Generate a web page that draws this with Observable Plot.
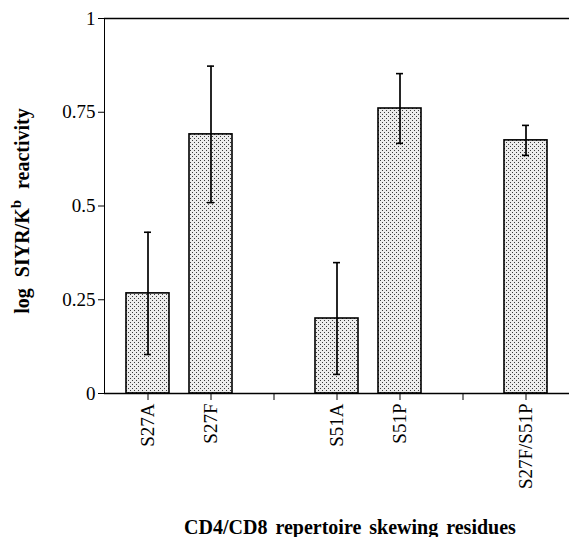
<!DOCTYPE html>
<html><head><meta charset="utf-8">
<script src="https://cdn.jsdelivr.net/npm/d3@7"></script>
<script src="https://cdn.jsdelivr.net/npm/@observablehq/plot@0.6"></script>
<style>body{margin:0;background:#fff}</style>
</head><body><div id="chart"></div>
<script>
const slots = ["S27A","S27F","gap1","S51A","S51P","gap2","S27F/S51P"];
const mutants = ["S27A","S27F","S51A","S51P","S27F/S51P"];
const means = [0.267,0.691,0.200,0.760,0.675];
const errors = [0.163,0.182,0.149,0.093,0.040];
const yTicks = [0,0.25,0.5,0.75,1];
const yLabel = "log SIYR/K";
const yLabelSup = "b";
const yLabelTail = " reactivity";
const xLabel = "CD4/CD8 repertoire skewing residues";

const data = mutants.map((m,i)=>({mutant:m, mean:means[i], lo:means[i]-errors[i], hi:means[i]+errors[i]}));

const FONT = "'Liberation Serif', 'Times New Roman', serif";
const W = 569, H = 537;
const chart = Plot.plot({
  width: W, height: H,
  marginLeft: 104, marginRight: 0, marginTop: 18, marginBottom: 144,
  style: {fontFamily: FONT, fontSize: "18px", color: "#000", background: "#fff", overflow: "visible"},
  x: {domain: slots, padding: 0.325, label: null, tickRotate: -90, tickSize: 7, tickPadding: 3,
      tickFormat: d => d.startsWith("gap") ? "" : d},
  y: {domain: [0,1], ticks: yTicks, label: null, tickSize: 6, tickPadding: 3, line: true,
      tickFormat: d => String(d)},
  marks: [
    Plot.barY(data, {x: "mutant", y: "mean", fill: "url(#stipple)", stroke: "#000", strokeWidth: 1.6}),
    Plot.ruleX(data, {x: "mutant", y1: "lo", y2: "hi", stroke: "#000", strokeWidth: 1.7}),
    Plot.tickY(data, {x: "mutant", y: "lo", insetLeft: 18, insetRight: 18, stroke: "#000", strokeWidth: 1.6}),
    Plot.tickY(data, {x: "mutant", y: "hi", insetLeft: 18, insetRight: 18, stroke: "#000", strokeWidth: 1.6}),
    Plot.ruleY([0, 1], {stroke: "#000", strokeWidth: 1.6})
  ]
});

const svg = d3.select(chart.tagName.toLowerCase() === "svg" ? chart : chart.querySelector("svg"));
svg.selectAll("text").style("font-family", FONT).style("font-size", "19px");
const defs = svg.insert("defs", ":first-child");
const pat = defs.append("pattern").attr("id", "stipple").attr("patternUnits", "userSpaceOnUse")
  .attr("width", 4).attr("height", 4);
pat.append("rect").attr("width", 4).attr("height", 4).attr("fill", "#ececec");
pat.append("rect").attr("x", 0).attr("y", 0).attr("width", 1).attr("height", 1).attr("fill", "#3a3a3a");
pat.append("rect").attr("x", 2).attr("y", 2).attr("width", 1).attr("height", 1).attr("fill", "#3a3a3a");

const yt = svg.append("text")
  .attr("transform", "translate(29,211) rotate(-90)")
  .attr("text-anchor", "middle")
  .style("font-family", FONT).style("font-size", "20px").style("word-spacing", "6px")
  .attr("font-weight", "bold").attr("fill", "#000");
yt.append("tspan").text(yLabel);
yt.append("tspan").attr("dy", -8).style("font-size", "15px").text(yLabelSup);
yt.append("tspan").attr("dy", 8).text(yLabelTail);

svg.append("text")
  .attr("x", 350).attr("y", 534)
  .attr("text-anchor", "middle")
  .style("font-family", FONT).style("font-size", "20px").style("word-spacing", "3px")
  .attr("font-weight", "bold").attr("fill", "#000")
  .text(xLabel);

document.getElementById("chart").appendChild(chart);
</script>
</body></html>
